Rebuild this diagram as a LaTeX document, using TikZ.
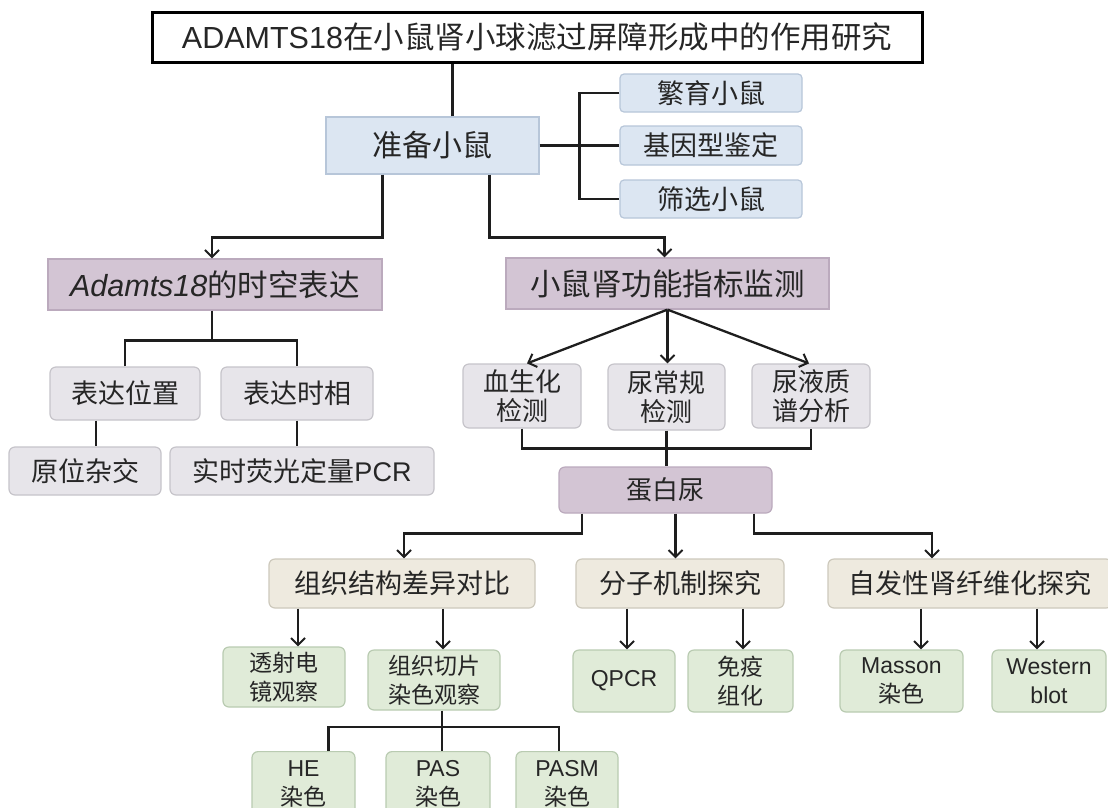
\documentclass[tikz,border=0pt]{standalone}
\usepackage{fontspec}
\setmainfont{Liberation Sans}
\newfontfamily\cjk{Noto Sans CJK SC}
\newcommand\zh[1]{{\cjk #1}}
\usetikzlibrary{arrows.meta}
\definecolor{txt}{HTML}{262626}
\definecolor{ln}{HTML}{1E1E1E}
\definecolor{bluef}{HTML}{DCE6F2}\definecolor{blued}{HTML}{B7C6D9}
\definecolor{purf}{HTML}{D3C5D4}\definecolor{purd}{HTML}{BBAABD}
\definecolor{greyf}{HTML}{E7E5EA}\definecolor{greyd}{HTML}{C6C4CA}
\definecolor{beigef}{HTML}{EEEADF}\definecolor{beiged}{HTML}{CDC9BC}
\definecolor{greenf}{HTML}{E0EBD8}\definecolor{greend}{HTML}{B9CBB1}
\tikzset{
  bx/.style={inner sep=0pt, align=center, text=txt, line width=1.2pt},
  sq/.style={bx},
  rd/.style={bx, rounded corners=6pt},
  blue/.style={sq, fill=bluef, draw=blued},
  pur/.style={fill=purf, draw=purd},
  grey/.style={rd, fill=greyf, draw=greyd},
  beige/.style={rd, fill=beigef, draw=beiged},
  green/.style={rd, fill=greenf, draw=greend},
  con/.style={draw=ln, line width=2.3pt},
  arr/.style={con, -{Straight Barb[length=7pt,width=14pt,line width=2pt]}},
  fA/.style={font=\fontsize{30.5}{33}\selectfont},
  fB/.style={font=\fontsize{26}{29}\selectfont},
  fG/.style={font=\fontsize{27}{30}\selectfont},
  fS/.style={font=\fontsize{27}{30}\selectfont},
  fC/.style={font=\fontsize{27}{30}\selectfont},
  fD/.style={font=\fontsize{23}{29}\selectfont},
}
\begin{document}
\begin{tikzpicture}[x=1pt,y=-1pt]
\useasboundingbox (0,0) rectangle (1108,807);
\clip (0,0) rectangle (1108,807);
\fill[white] (0,0) rectangle (1108,807);
% nodes
\node[bx, draw=black, fill=white, line width=3pt, minimum width=770, minimum height=50, font=\fontsize{30.5}{33}\selectfont] (title) at (537,37) {ADAMTS18\zh{在小鼠肾小球滤过屏障形成中的作用研究}};
\node[blue, font=\fontsize{30}{33}\selectfont, minimum width=213, minimum height=57] (zb) at (432.5,145.5) {\zh{准备小鼠}};
\node[blue, fS, rounded corners=4pt, minimum width=182, minimum height=38] (fy) at (711,93) {\zh{繁育小鼠}};
\node[blue, fS, rounded corners=4pt, minimum width=182, minimum height=39] (jy) at (711,145.5) {\zh{基因型鉴定}};
\node[blue, fS, rounded corners=4pt, minimum width=182, minimum height=38] (sx) at (711,199) {\zh{筛选小鼠}};
\node[sq, pur, fA, minimum width=334, minimum height=51] (ad) at (215,284.5) {\textit{Adamts18}\zh{的时空表达}};
\node[sq, pur, fA, minimum width=323, minimum height=51] (jc) at (667.5,283.5) {\zh{小鼠肾功能指标监测}};
\node[grey, fG, minimum width=150, minimum height=53] (bw) at (125,393.5) {\zh{表达位置}};
\node[grey, fG, minimum width=152, minimum height=53] (bs) at (297,393.5) {\zh{表达时相}};
\node[grey, fG, minimum width=152, minimum height=48] (yw) at (85,471) {\zh{原位杂交}};
\node[grey, fG, minimum width=264, minimum height=48] (ss) at (302,471) {\zh{实时荧光定量}PCR};
\node[grey, fB, minimum width=118, minimum height=64] (xs) at (522,396) {\zh{血生化}\\\zh{检测}};
\node[grey, fB, minimum width=117, minimum height=66] (nc) at (666.5,397) {\zh{尿常规}\\\zh{检测}};
\node[grey, fB, minimum width=118, minimum height=64] (ny) at (811,396) {\zh{尿液质}\\\zh{谱分析}};
\node[rd, pur, fB, minimum width=213, minimum height=46] (dbn) at (665.5,490) {\zh{蛋白尿}};
\node[beige, fC, minimum width=266, minimum height=49] (zz) at (402,583.5) {\zh{组织结构差异对比}};
\node[beige, fC, minimum width=208, minimum height=49] (fz) at (680,583.5) {\zh{分子机制探究}};
\node[beige, fC, minimum width=284, minimum height=49] (zf) at (970,583.5) {\zh{自发性肾纤维化探究}};
\node[green, fD, minimum width=122, minimum height=60] (ts) at (284,677) {\zh{透射电}\\\zh{镜观察}};
\node[green, fD, minimum width=132, minimum height=60] (zq) at (434,680) {\zh{组织切片}\\\zh{染色观察}};
\node[green, fD, minimum width=102, minimum height=62] (qp) at (624,681) {QPCR};
\node[green, fD, minimum width=105, minimum height=62] (my) at (740.5,681) {\zh{免疫}\\\zh{组化}};
\node[green, fD, minimum width=123, minimum height=62] (ms) at (901.5,681) {Masson\\\zh{染色}};
\node[green, fD, minimum width=114, minimum height=62] (wb) at (1049,681) {Western\\blot};
\node[green, fD, minimum width=103, minimum height=64, anchor=north] (he) at (303.5,751) {HE\\\zh{染色}};
\node[green, fD, minimum width=104, minimum height=64, anchor=north] (pas) at (438,751) {PAS\\\zh{染色}};
\node[green, fD, minimum width=102, minimum height=64, anchor=north] (pasm) at (567,751) {PASM\\\zh{染色}};
% connectors
\draw[con] ([xshift=20]zb.north) -- ([xshift=20]zb.north |- title.south);
\draw[con] (zb.east) -- (jy.west);
\draw[con] (fy.west) -- ++(-40,0) |- (sx.west);
\draw[arr] ([xshift=-50]zb.south) -- ++(0,63) -| ([xshift=-3]ad.north);
\draw[arr] ([xshift=57]zb.south) -- ++(0,63) -| ([xshift=-3]jc.north);
\draw[con] ([xshift=-3]ad.south) -- ++(0,30) coordinate (adj);
\draw[con] (bw.north) |- (adj) -| (bs.north);
\draw[con] ([xshift=-29]bw.south) -- ([xshift=-29]bw.south |- yw.north);
\draw[con] (bs.south) -- (bs.south |- ss.north);
\draw[arr] (jc.south) -- ([xshift=5]xs.north);
\draw[arr] (jc.south) -- (jc.south |- nc.north);
\draw[arr] (jc.south) -- ([xshift=-2]ny.north);
\draw[con] (xs.south) -- ++(0,20) -| (ny.south);
\draw[con] (nc.south) -- (nc.south |- dbn.north);
\draw[arr] ([xshift=-83.5]dbn.south) -- ++(0,20) -| ([xshift=2]zz.north);
\draw[arr] ([xshift=10]dbn.south) -- ([xshift=10]dbn.south |- fz.north);
\draw[arr] ([xshift=88.5]dbn.south) -- ++(0,20) -| ([xshift=-38]zf.north);
\draw[arr] ([xshift=-104]zz.south) -- ([xshift=-104]zz.south |- ts.north);
\draw[arr] ([xshift=41]zz.south) -- ([xshift=41]zz.south |- zq.north);
\draw[arr] ([xshift=-53]fz.south) -- ([xshift=-53]fz.south |- qp.north);
\draw[arr] ([xshift=63]fz.south) -- ([xshift=63]fz.south |- my.north);
\draw[arr] ([xshift=-49]zf.south) -- ([xshift=-49]zf.south |- ms.north);
\draw[arr] ([xshift=67]zf.south) -- ([xshift=67]zf.south |- wb.north);
\draw[con] ([xshift=8]zq.south) -- ([xshift=8]zq.south |- pas.north);
\draw[con] ([xshift=25]he.north) -- ++(0,-24) -| ([xshift=-8]pasm.north);
\end{tikzpicture}
\end{document}
